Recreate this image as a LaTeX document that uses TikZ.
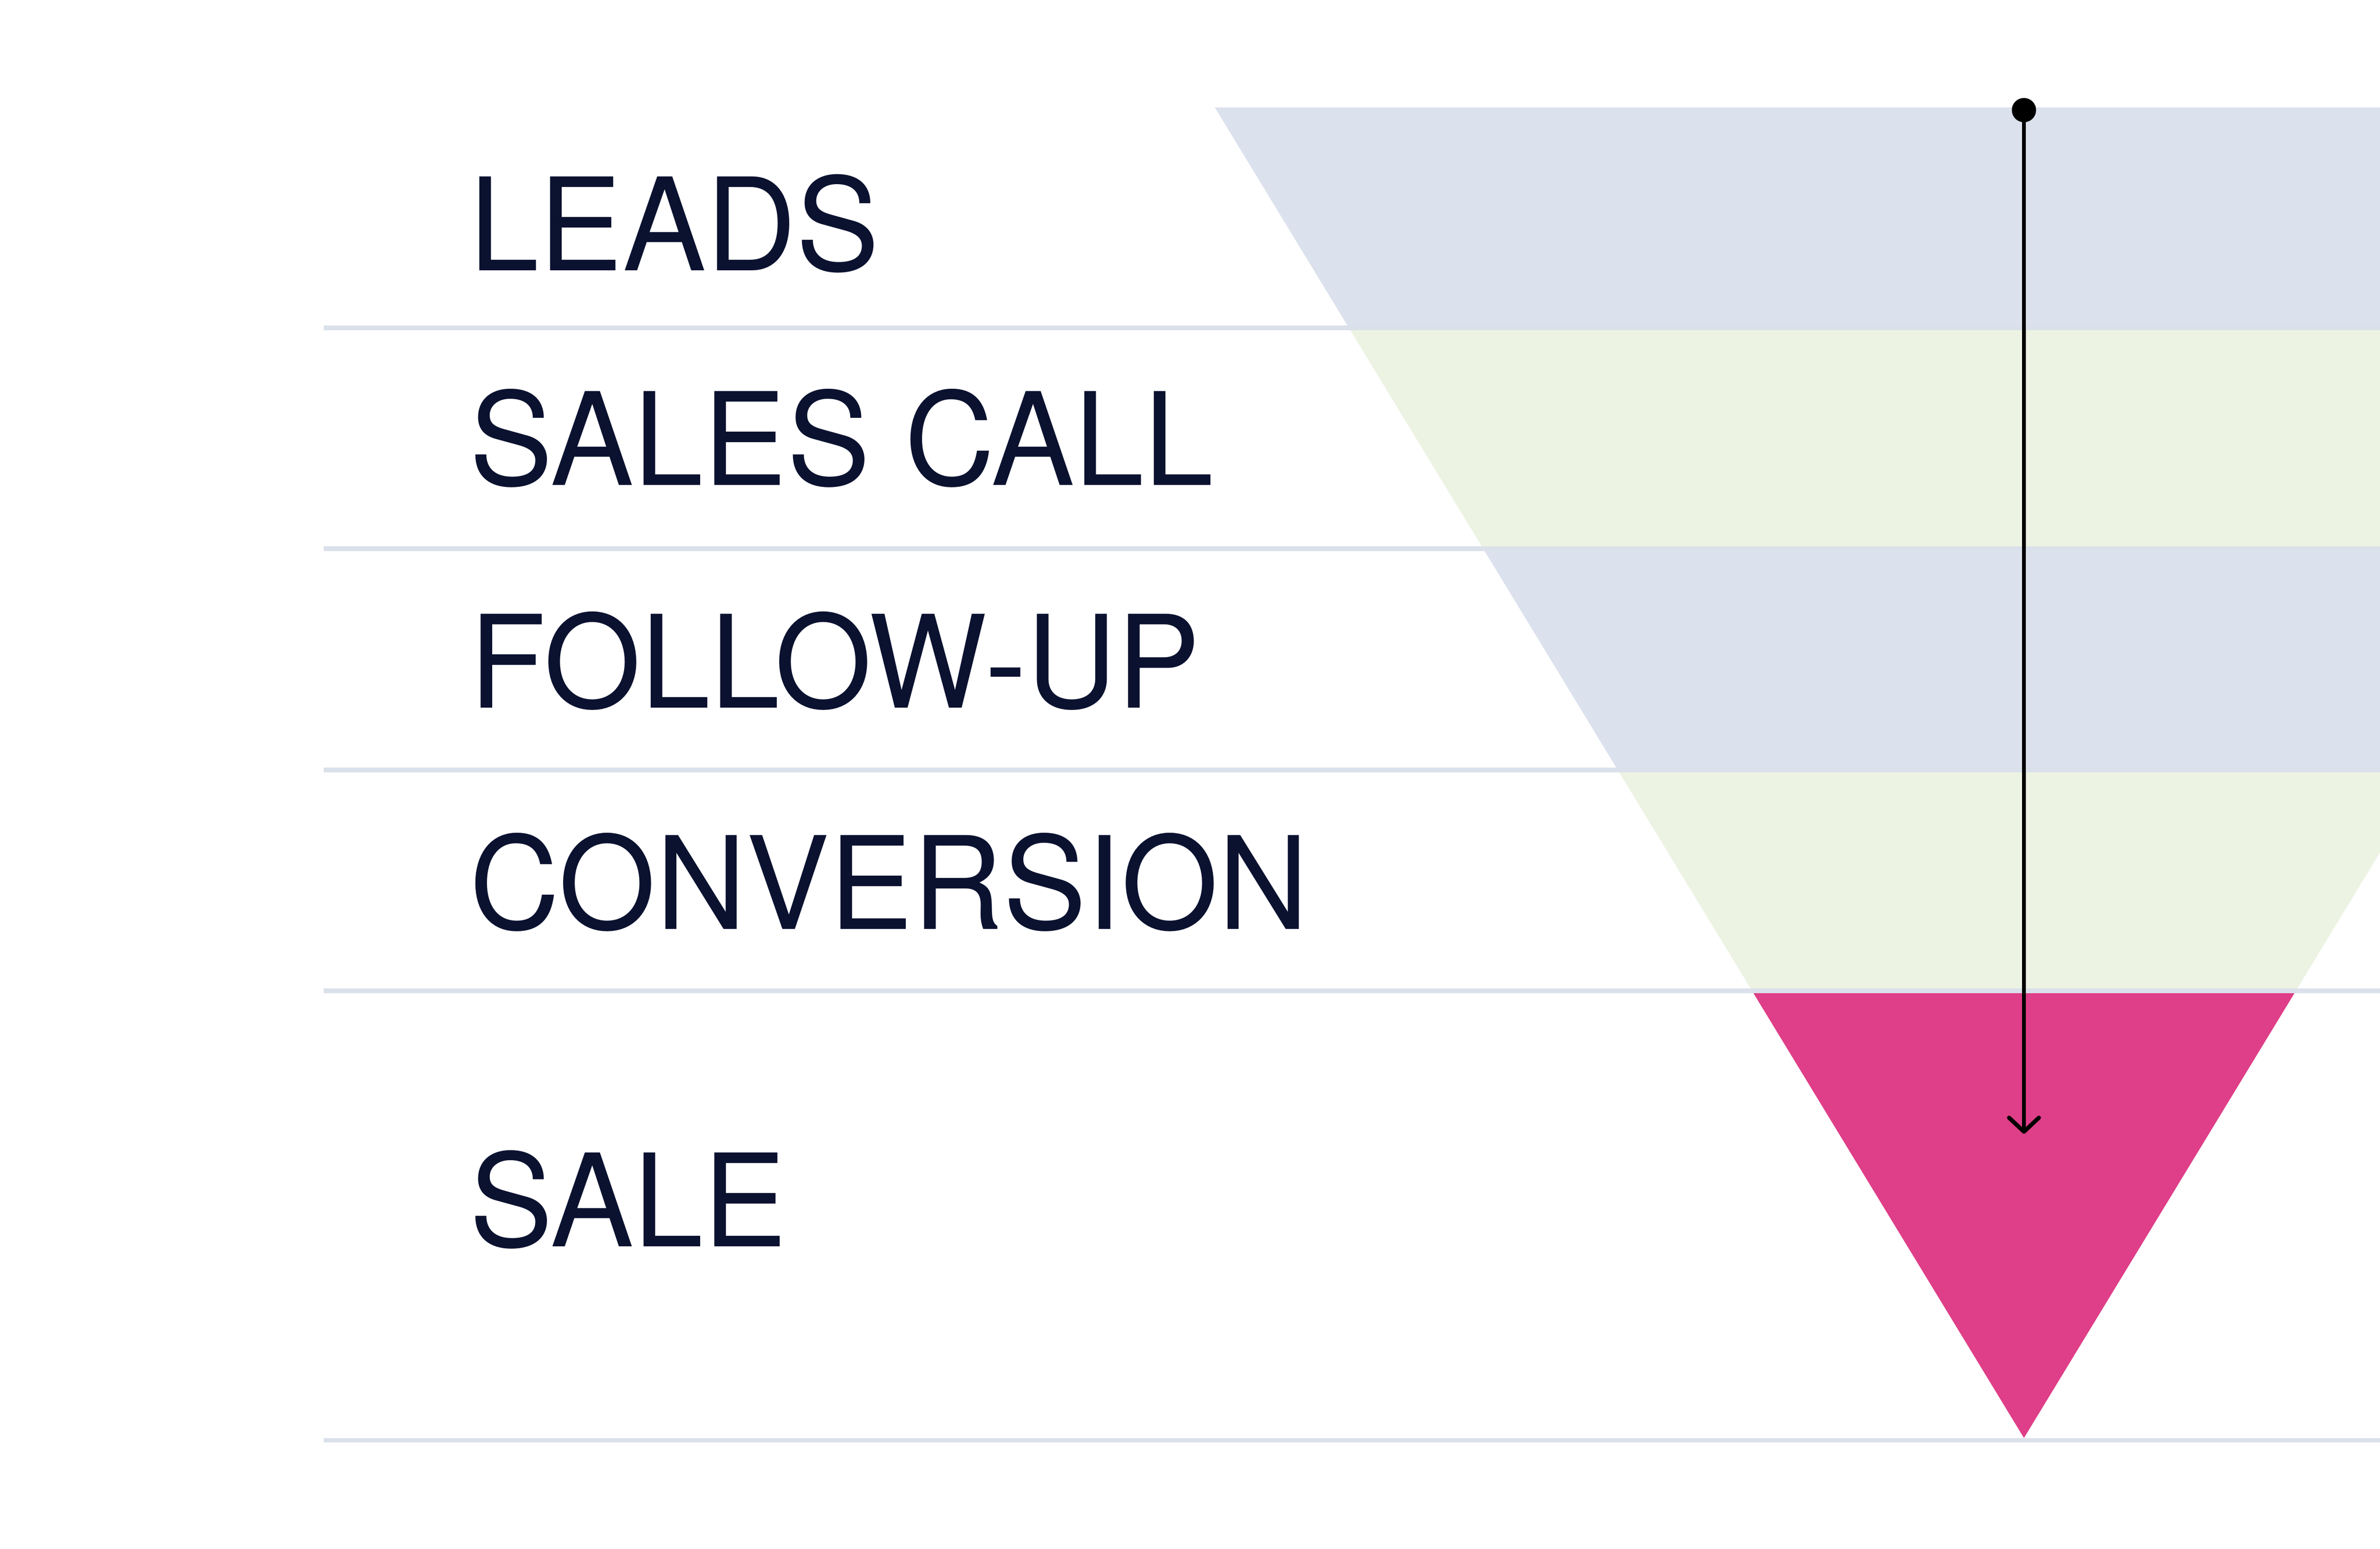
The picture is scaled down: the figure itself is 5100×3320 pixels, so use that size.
\documentclass[tikz,border=0pt]{standalone}
\usepackage{xcolor}
\usepackage{fontspec}
\usepackage{tikz}
\usetikzlibrary{calc}
\usetikzlibrary{arrows.meta}

\newfontfamily\stagefont[FakeStretch=0.97]{TeX Gyre Heros}

\definecolor{bandblue}{HTML}{DCE2ED}
\definecolor{bandgreen}{HTML}{EDF3E3}
\definecolor{bandpink}{HTML}{DF3E88}
\definecolor{rulegray}{HTML}{DBE1EA}
\definecolor{labelink}{HTML}{0B1230}

\tikzset{
	stagelabel/.style={anchor=base west, inner sep=0pt, text=labelink,
		font=\stagefont\fontsize{78.5pt}{80pt}\selectfont},
	divider/.style={draw=rulegray, line width=2.85pt},
	dotmark/.style={circle, fill=black, inner sep=0pt, minimum size=0.52cm},
	flowline/.style={line width=2.5pt, line cap=round,
		-{Straight Barb[length=0.3cm, width=0.64cm, round]}}
}

\begin{document}
\begin{tikzpicture}[x=0.01cm, y=-0.01cm]
		\useasboundingbox (0,0) rectangle (5100,3320);
		\clip (0,0) rectangle (5100,3320);
		\coordinate (mouthl) at (2603,230);
		\coordinate (mouthr) at (6071,230);
		\coordinate (apex) at (4337,3082);
		% funnel bands
		\foreach \a/\b/\c in {0/0.1658/bandblue, 0.1658/0.3317/bandgreen,
				0.3317/0.4979/bandblue, 0.4979/0.6641/bandgreen, 0.6641/1/bandpink}
			\fill[\c] ($(mouthl)!\a!(apex)$) -- ($(mouthl)!\b!(apex)$)
				-- ($(mouthr)!\b!(apex)$) -- ($(mouthr)!\a!(apex)$) -- cycle;
		\foreach \y in {703,1176,1650,2124,3087}
			\path[divider] (694,\y) -- (5100,\y);
		\node[stagelabel] (leads) at (1006,580) {LEADS};
		\node[stagelabel] (salescall) at (1006,1040) {SALES CALL};
		\node[stagelabel] (followup) at (1006,1517) {FOLLOW-UP};
		\node[stagelabel] (conversion) at (1006,1992) {CONVERSION};
		\node[stagelabel] (sale) at (1006,2672) {SALE};
		\node[dotmark] (start) at (4337,236) {};
		\coordinate (stop) at (4337,2430);
		\path[draw, flowline] (start) -- (stop);
	\end{tikzpicture}
\end{document}
